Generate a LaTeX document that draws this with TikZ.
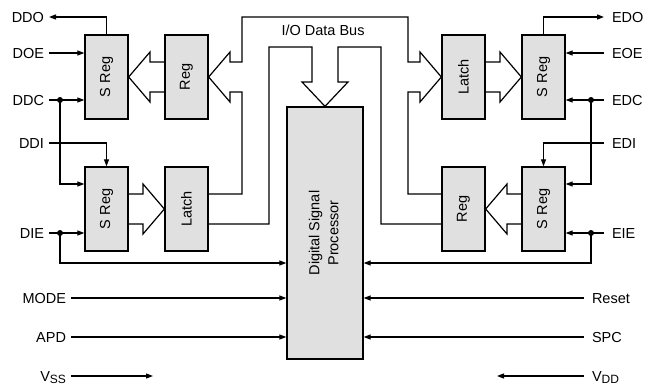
\documentclass[tikz,border=0pt]{standalone}
\usepackage{fontspec}
\setmainfont{Liberation Sans}
\usetikzlibrary{arrows.meta}

\tikzset{
	box/.style={draw=black, fill=black!12, line width=1.3pt, minimum width=43pt, minimum height=84pt, inner sep=0pt},
	sigl/.style={inner sep=0pt, outer sep=5pt, text height=10.5pt, text depth=0pt, anchor=east},
	sigr/.style={inner sep=0pt, outer sep=8pt, text height=10.5pt, text depth=0pt, anchor=west},
	wire/.style={line width=1.2pt, -{Triangle[length=7pt,width=5pt]}},
	bus/.style={line width=1.2pt},
	dot/.style={circle, fill=black, inner sep=0pt, minimum size=6pt},
}

\begin{document}
\begin{tikzpicture}[x=1pt, y=-1pt, font=\fontsize{14.5}{19}\selectfont]
	\useasboundingbox (0,0) rectangle (652,387);

	% registers and latches
	\node[box] (sregDO) at (106.5,77)  {\rotatebox{90}{S Reg}};
	\node[box] (regD)   at (186.5,77)  {\rotatebox{90}{Reg}};
	\node[box] (sregDI) at (106.5,209) {\rotatebox{90}{S Reg}};
	\node[box] (latchD) at (186.5,209) {\rotatebox{90}{Latch}};
	\node[box] (latchE) at (463.5,77)  {\rotatebox{90}{Latch}};
	\node[box] (sregEO) at (543.5,77)  {\rotatebox{90}{S Reg}};
	\node[box] (regE)   at (463.5,209) {\rotatebox{90}{Reg}};
	\node[box] (sregEI) at (543.5,209) {\rotatebox{90}{S Reg}};
	\node[box, minimum width=76pt, minimum height=252pt] (dsp) at (325,233)
		{\rotatebox{90}{\begin{tabular}{@{}c@{}}Digital Signal\\Processor\end{tabular}}};

	\node (busLbl) at (323,30) {I/O Data Bus};

	% pin labels
	\node[sigl] (lblDDO)  at (49,17)  {DDO};
	\node[sigl] (lblDOE)  at (49,53)  {DOE};
	\node[sigl] (lblDDC)  at (49,100) {DDC};
	\node[sigl] (lblDDI)  at (49,143) {DDI};
	\node[sigl] (lblDIE)  at (49,233) {DIE};
	\node[sigl] (lblMODE) at (71,298) {MODE};
	\node[sigl] (lblAPD)  at (71,337) {APD};
	\node[sigl] (lblVSS)  at (71,376) {V\raisebox{-2.5pt}{\fontsize{12}{12}\selectfont SS}};
	\node[sigr] (lblEDO)  at (604,17)  {EDO};
	\node[sigr] (lblEOE)  at (604,53)  {EOE};
	\node[sigr] (lblEDC)  at (604,100) {EDC};
	\node[sigr] (lblEDI)  at (604,143) {EDI};
	\node[sigr] (lblEIE)  at (604,233) {EIE};
	\node[sigr] (lblReset) at (584,298) {Reset};
	\node[sigr] (lblSPC)  at (584,337) {SPC};
	\node[sigr] (lblVDD)  at (584,376) {V\raisebox{-2.5pt}{\fontsize{12}{12}\selectfont DD}};

	\node[dot] (jDDC) at (60,100) {};
	\node[dot] (jDIE) at (60,233) {};
	\node[dot] (jEDC) at (591,100) {};
	\node[dot] (jEIE) at (591,233) {};
	\coordinate (tipVSS) at (153,376);
	\coordinate (tipVDD) at (497,376);

	% left side wires
	\draw[wire] (sregDO.north) |- (lblDDO.east);
	\draw[wire] (lblDOE.east) -- (sregDO.west |- lblDOE);
	\draw[wire] (lblDDC.east) -- (sregDO.west |- lblDDC);
	\draw[wire] (jDDC.center) |- (sregDI.west |- 0,184);
	\draw[wire] (lblDDI.east) -| (sregDI.north);
	\draw[wire] (lblDIE.east) -- (sregDI.west |- lblDIE);
	\draw[wire] (jDIE.center) |- (dsp.west |- 0,263);
	\draw[wire] (lblMODE.east) -- (dsp.west |- lblMODE);
	\draw[wire] (lblAPD.east) -- (dsp.west |- lblAPD);
	\draw[wire] (lblVSS.east) -- (tipVSS);

	% right side wires
	\draw[wire] (sregEO.north) |- (lblEDO.west);
	\draw[wire] (lblEOE.west) -- (sregEO.east |- lblEOE);
	\draw[wire] (lblEDC.west) -- (sregEO.east |- lblEDC);
	\draw[wire] (jEDC.center) |- (sregEI.east |- 0,184);
	\draw[wire] (lblEDI.west) -| (sregEI.north);
	\draw[wire] (lblEIE.west) -- (sregEI.east |- lblEIE);
	\draw[wire] (jEIE.center) |- (dsp.east |- 0,263);
	\draw[wire] (lblReset.west) -- (dsp.east |- lblReset);
	\draw[wire] (lblSPC.west) -- (dsp.east |- lblSPC);
	\draw[wire] (lblVDD.west) -- (tipVDD);

	% wide arrows between registers
	\draw[bus] (regD.west |- 0,62) -- (150,62) -- (150,52) -- (sregDO.east) -- (150,102) -- (150,92) -- (regD.west |- 0,92);
	\draw[bus] (sregDI.east |- 0,194) -- (143,194) -- (143,184) -- (latchD.west) -- (143,234) -- (143,224) -- (sregDI.east |- 0,224);
	\draw[bus] (latchE.east |- 0,62) -- (500,62) -- (500,52) -- (sregEO.west) -- (500,102) -- (500,92) -- (latchE.east |- 0,92);
	\draw[bus] (sregEI.west |- 0,194) -- (507,194) -- (507,184) -- (regE.east) -- (507,234) -- (507,224) -- (sregEI.west |- 0,224);

	% I/O data bus
	\draw[bus] (latchD.east |- 0,194) -- (242,194) -- (242,92) -- (230,92) -- (230,102) -- (regD.east)
		-- (230,52) -- (230,62) -- (242,62) -- (242,17) -- (408,17) -- (408,62) -- (420,62) -- (420,52)
		-- (latchE.west) -- (420,102) -- (420,92) -- (408,92) -- (408,194) -- (regE.west |- 0,194);
	\draw[bus] (latchD.east |- 0,224) -- (269,224) -- (269,47) -- (312,47) -- (312,82) -- (302,82) -- (dsp.north)
		-- (348,82) -- (338,82) -- (338,47) -- (381,47) -- (381,224) -- (regE.west |- 0,224);
\end{tikzpicture}
\end{document}
